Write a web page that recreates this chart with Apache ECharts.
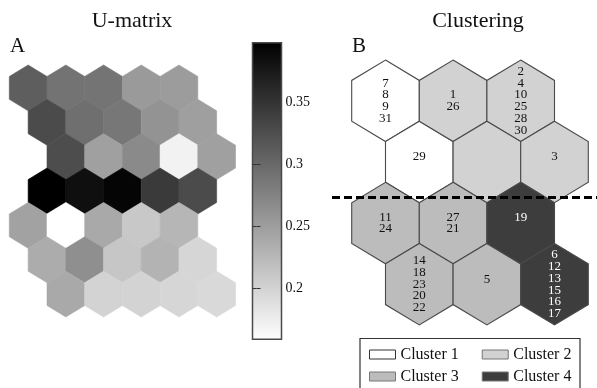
<!DOCTYPE html>
<html><head><meta charset="utf-8">
<script src="https://cdn.jsdelivr.net/npm/echarts@6/dist/echarts.min.js"></script>
<style>html,body{margin:0;padding:0;background:#fff}#c{width:597px;height:388px}</style>
</head><body><div id="c"></div>
<script>
// ---- Data ----
// U-matrix values (7 rows x 5 columns), row 0 at top
const umatRow1 = [0.310, 0.290, 0.289, 0.254, 0.252];
const umatRow2 = [0.328, 0.294, 0.286, 0.260, 0.249];
const umatRow3 = [0.326, 0.248, 0.269, 0.171, 0.248];
const umatRow4 = [0.398, 0.384, 0.393, 0.344, 0.328];
const umatRow5 = [0.246, 0.159, 0.240, 0.211, 0.227];
const umatRow6 = [0.237, 0.264, 0.212, 0.230, 0.197];
const umatRow7 = [0.240, 0.200, 0.200, 0.197, 0.195];
const colorbarRange = [0.159, 0.398];
const colorbarTicks = [0.2, 0.25, 0.3, 0.35];

// Clustering map (4 rows x 3 columns)
const clusterNames = ['Cluster 1', 'Cluster 2', 'Cluster 3', 'Cluster 4'];
const clusterRow1 = [1, 2, 2];
const clusterRow2 = [1, 2, 2];
const clusterRow3 = [3, 3, 4];
const clusterRow4 = [3, 3, 4];
const labelRow1 = ['7\n8\n9\n31', '1\n26', '2\n4\n10\n25\n28\n30'];
const labelRow2 = ['29', '', '3'];
const labelRow3 = ['11\n24', '27\n21', '19'];
const labelRow4 = ['14\n18\n23\n20\n22', '5', '6\n12\n13\n15\n16\n17'];
const cutLevel = 1.57; // dashed cut between map rows 2 and 3

// ---- Styles / layout ----
const serif = '"Liberation Serif", "DejaVu Serif", serif';
const clusterColors = ['#ffffff', '#d2d2d2', '#bcbcbc', '#3d3d3d'];
const clusterText = ['#111', '#111', '#111', '#fff'];
const umatShift = [0, 1, 2, 1, 0, 1, 2];
const mapShift = [0, 1, 0, 1];

const umatRows = [umatRow1, umatRow2, umatRow3, umatRow4, umatRow5, umatRow6, umatRow7];
const umatData = [];
umatRows.forEach((row, r) => row.forEach((v, c) => umatData.push([c + umatShift[r] / 2, r, v])));

const clusterRows = [clusterRow1, clusterRow2, clusterRow3, clusterRow4];
const labelRows = [labelRow1, labelRow2, labelRow3, labelRow4];
const clusterData = clusterNames.map(() => []);
const clusterLabels = clusterNames.map(() => []);
clusterRows.forEach((row, r) => row.forEach((k, c) => {
  clusterData[k - 1].push([c + mapShift[r] / 2, r]);
  clusterLabels[k - 1].push(labelRows[r][c]);
}));

function hexPoints(cx, cy, hw, hh) {
  return [[cx, cy - hh], [cx + hw, cy - hh / 2], [cx + hw, cy + hh / 2],
          [cx, cy + hh], [cx - hw, cy + hh / 2], [cx - hw, cy - hh / 2]];
}
function hexGeom(api) {
  const c = api.coord([api.value(0), api.value(1)]);
  const hw = Math.abs(api.size([1, 0])[0]) / 2;
  const hh = Math.abs(api.size([0, 1])[1]) / 1.5;
  return { c, hw, hh };
}

const chart = echarts.init(document.getElementById('c'), null, { renderer: 'canvas' });

const series = [];
series.push({
  type: 'custom', name: 'U-matrix', xAxisIndex: 0, yAxisIndex: 0, data: umatData,
  renderItem: (params, api) => {
    const g = hexGeom(api);
    const st = api.style();
    return { type: 'polygon', shape: { points: hexPoints(g.c[0], g.c[1], g.hw, g.hh) },
      style: { fill: st.fill, stroke: st.fill, lineWidth: 0.6 } };
  }
});
series.push({
  type: 'custom', name: 'colorbar', xAxisIndex: 1, yAxisIndex: 1, z: 1, data: [[0, colorbarRange[0], colorbarRange[1]]],
  renderItem: (params, api) => {
    const p0 = api.coord([0, api.value(1)]);
    const p1 = api.coord([1, api.value(2)]);
    return { type: 'rect', shape: { x: p0[0], y: p1[1], width: p1[0] - p0[0], height: p0[1] - p1[1] },
      style: { fill: new echarts.graphic.LinearGradient(0, 0, 0, 1, [{ offset: 0, color: '#000' }, { offset: 1, color: '#fff' }]),
        stroke: '#4a4a4a', lineWidth: 1.5 } };
  }
});
clusterNames.forEach((name, k) => {
  series.push({
    type: 'custom', name, xAxisIndex: 2, yAxisIndex: 3, data: clusterData[k],
    itemStyle: { color: clusterColors[k], borderColor: '#444', borderWidth: 1 },
    renderItem: (params, api) => {
      const g = hexGeom(api);
      const txt = clusterLabels[k][params.dataIndex];
      const single = txt.indexOf('\n') < 0;
      return { type: 'group', children: [
        { type: 'polygon', shape: { points: hexPoints(g.c[0], g.c[1], g.hw, g.hh) },
          style: { fill: clusterColors[k], stroke: '#4a4a4a', lineWidth: 1.1 } },
        { type: 'text', z2: 5, style: { text: txt, x: g.c[0], y: g.c[1] + (single ? -5 : 0),
          align: 'center', verticalAlign: 'middle', font: '13px ' + serif, lineHeight: 11.8,
          fill: clusterText[k] } }
      ] };
    }
  });
});
series.push({
  type: 'line', name: 'cut', xAxisIndex: 2, yAxisIndex: 3, data: [], z: 10,
  markLine: { silent: true, symbol: 'none', label: { show: false },
    lineStyle: { color: '#000', width: 3, type: [8, 4] }, data: [{ yAxis: cutLevel }] }
});

const legendItem = (k) => ({ name: clusterNames[k],
  itemStyle: { color: clusterColors[k], borderColor: k === 0 ? '#333' : '#777', borderWidth: 1 } });
const legendBase = { orient: 'horizontal', icon: 'rect', itemWidth: 26, itemHeight: 9, itemGap: 23, padding: 0,
  selectedMode: false, textStyle: { fontFamily: serif, fontSize: 16, color: '#111' } };

const titleStyle = (size) => ({ fontFamily: serif, fontSize: size, fontWeight: 'normal', color: '#111' });
// ticks drawn pointing outward from an axis line shifted 4px into the bar => they sit inside the bar
const cbAxisTick = { show: true, inside: false, length: 4, lineStyle: { color: '#333', width: 1 }, customValues: colorbarTicks };

chart.setOption({
  animation: false,
  backgroundColor: '#fff',
  title: [
    { text: 'U-matrix', left: 132, top: 10, padding: 0, textAlign: 'center', textStyle: titleStyle(22) },
    { text: 'Clustering', left: 478, top: 10, padding: 0, textAlign: 'center', textStyle: titleStyle(22) },
    { text: 'A', left: 10, top: 36, padding: 0, textStyle: titleStyle(21) },
    { text: 'B', left: 352, top: 36, padding: 0, textStyle: titleStyle(21) }
  ],
  grid: [
    { left: 9.3, top: 65, width: 226.2, height: 252 },
    { left: 252.5, top: 42.7, width: 29, height: 296.6 },
    { left: 332, top: 60, width: 265, height: 265 }
  ],
  xAxis: [
    { gridIndex: 0, type: 'value', min: -0.5, max: 5.5, show: false },
    { gridIndex: 1, type: 'value', min: 0, max: 1, show: false },
    { gridIndex: 2, type: 'value', min: -0.7914, max: 3.1287, show: false }
  ],
  yAxis: [
    { gridIndex: 0, type: 'value', min: -0.667, max: 6.667, inverse: true, show: false },
    { gridIndex: 1, type: 'value', min: colorbarRange[0], max: colorbarRange[1], position: 'right', z: 10, offset: -4,
      axisLine: { show: false }, splitLine: { show: false }, axisTick: cbAxisTick,
      axisLabel: { customValues: colorbarTicks, fontFamily: serif, fontSize: 14, color: '#111', margin: 8 } },
    { gridIndex: 1, type: 'value', min: colorbarRange[0], max: colorbarRange[1], position: 'left', z: 10, offset: -4,
      axisLine: { show: false }, splitLine: { show: false }, axisTick: cbAxisTick,
      axisLabel: { show: false } },
    { gridIndex: 2, type: 'value', min: -0.6675, max: 3.6675, inverse: true, show: false }
  ],
  visualMap: { show: false, type: 'continuous', seriesIndex: 0, dimension: 2,
    min: colorbarRange[0], max: colorbarRange[1], inRange: { color: ['#ffffff', '#000000'] } },
  legend: [
    Object.assign({}, legendBase, { left: 369, top: 346.5, data: [legendItem(0), legendItem(1)] }),
    Object.assign({}, legendBase, { left: 369, top: 368.5, data: [legendItem(2), legendItem(3)] })
  ],
  graphic: [
    { type: 'rect', shape: { x: 360, y: 338.5, width: 220, height: 70 }, silent: true,
      style: { fill: 'none', stroke: '#333', lineWidth: 1.2 } }
  ],
  series
});
</script></body></html>
